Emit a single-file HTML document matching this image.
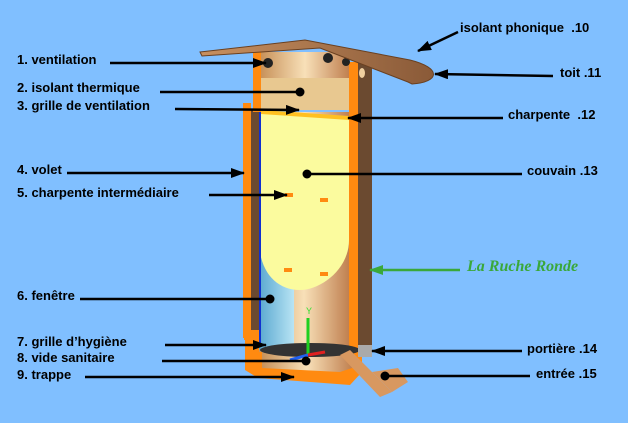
<!DOCTYPE html>
<html><head><meta charset="utf-8"><style>
html,body{margin:0;padding:0;background:#80bfff;}
svg{display:block}
text{font-family:"Liberation Sans",Arial,sans-serif;font-weight:bold;font-size:13px;fill:#000}
line{stroke-width:2.5}
</style></head><body>
<svg width="628" height="423" viewBox="0 0 628 423" xmlns="http://www.w3.org/2000/svg">
<defs>
<marker id="ah" markerWidth="14" markerHeight="10" refX="13" refY="5" orient="auto" markerUnits="userSpaceOnUse"><path d="M0,0 L14,5 L0,10 z" fill="#000"/></marker>
<marker id="ahg" markerWidth="14" markerHeight="10" refX="13" refY="5" orient="auto" markerUnits="userSpaceOnUse"><path d="M0,0 L14,5 L0,10 z" fill="#3aa83a"/></marker>
<linearGradient id="tan" x1="0" x2="1"><stop offset="0" stop-color="#c8925a"/><stop offset="0.5" stop-color="#f8e0b8"/><stop offset="1" stop-color="#c08050"/></linearGradient>
<linearGradient id="roof" x1="0" x2="1"><stop offset="0" stop-color="#c89060"/><stop offset="1" stop-color="#8a5a38"/></linearGradient>
<linearGradient id="win" x1="0" x2="1"><stop offset="0" stop-color="#5aa8d0"/><stop offset="1" stop-color="#b8e4f4"/></linearGradient>
</defs>
<rect width="628" height="423" fill="#80bfff"/>
<polygon points="245,335 362,335 362,372 350,385 258,378 245,370" fill="#ff8a10"/>
<polygon points="262,350 352,350 352,368 340,372 262,368" fill="url(#tan)"/>
<rect x="357" y="62" width="15" height="290" fill="#6b4a30"/>
<rect x="349" y="62" width="9" height="290" fill="#ff8a10"/>
<rect x="243" y="103" width="8" height="235" fill="#ff8a10"/>
<rect x="251" y="110" width="8" height="225" fill="#6b4a30"/>
<rect x="244" y="330" width="22" height="10" fill="#ff8a10"/>
<rect x="259" y="112" width="90" height="240" fill="url(#tan)"/>
<rect x="259" y="240" width="35" height="110" fill="url(#win)"/>
<path d="M259,112 L349,118 L349,240 C349,270 320,290 300,290 C275,290 259,270 259,240 Z" fill="#fbfb9e"/>
<line x1="260" y1="112" x2="260" y2="345" stroke="#1030d0" style="stroke-width:2"/>
<rect x="253" y="50" width="8" height="62" fill="#ff8a10"/>
<rect x="261" y="52" width="88" height="58" fill="url(#tan)"/>
<rect x="261" y="78" width="88" height="32" fill="#e8c890"/>
<polygon points="261,110 349,116 349,120 261,114" fill="#ffc020"/>
<circle cx="268" cy="63" r="5" fill="#222"/>
<circle cx="328" cy="58" r="5" fill="#222"/>
<circle cx="346" cy="62" r="4" fill="#222"/>
<ellipse cx="362" cy="73" rx="3" ry="5" fill="#f0d0a0"/>
<path d="M200,52 L305,40 L410,60 C442,68 440,82 412,84 L408,82 L320,48 L202,56 Z" fill="url(#roof)" stroke="#6a4020" stroke-width="1"/>
<ellipse cx="310" cy="350" rx="50" ry="7" fill="#333"/>
<rect x="285" y="193" width="8" height="4" fill="#ff8a10"/>
<rect x="320" y="198" width="8" height="4" fill="#ff8a10"/>
<rect x="284" y="268" width="8" height="4" fill="#ff8a10"/>
<rect x="320" y="272" width="8" height="4" fill="#ff8a10"/>
<line x1="308" y1="355" x2="308" y2="318" stroke="#20d020" style="stroke-width:3"/>
<text x="306" y="314" style="font-size:9px;fill:#30e030;font-weight:normal">Y</text>
<line x1="308" y1="355" x2="290" y2="360" stroke="#2060f0" style="stroke-width:3"/>
<line x1="308" y1="355" x2="325" y2="352" stroke="#e02020" style="stroke-width:3"/>
<rect x="358" y="345" width="14" height="12" fill="#aaa"/>
<polygon points="340,355 350,350 392,392 380,397" fill="#d89860"/>
<polygon points="372,372 398,368 408,382 392,392" fill="#d89860"/>
<text x="17" y="64">1. ventilation</text>
<line x1="110" y1="63" x2="266" y2="63" stroke="#000" marker-end="url(#ah)"/>
<text x="17" y="92">2. isolant thermique</text>
<line x1="160" y1="92" x2="300" y2="92" stroke="#000"/><circle cx="300" cy="92" r="4.5"/>
<text x="17" y="110">3. grille de ventilation</text>
<line x1="175" y1="109" x2="299" y2="110" stroke="#000" marker-end="url(#ah)"/>
<text x="17" y="174">4. volet</text>
<line x1="67" y1="173" x2="244" y2="173" stroke="#000" marker-end="url(#ah)"/>
<text x="17" y="197">5. charpente intermédiaire</text>
<line x1="209" y1="195" x2="287" y2="195" stroke="#000" marker-end="url(#ah)"/>
<text x="17" y="300">6. fenêtre</text>
<line x1="80" y1="299" x2="270" y2="299" stroke="#000"/><circle cx="270" cy="299" r="4.5"/>
<text x="17" y="346">7. grille d’hygiène</text>
<line x1="165" y1="345" x2="266" y2="345" stroke="#000" marker-end="url(#ah)"/>
<text x="17" y="362">8. vide sanitaire</text>
<line x1="162" y1="361" x2="306" y2="361" stroke="#000"/><circle cx="306" cy="361" r="4.5"/>
<text x="17" y="379">9. trappe</text>
<line x1="85" y1="377" x2="294" y2="377" stroke="#000" marker-end="url(#ah)"/>
<text x="460" y="32">isolant phonique&#160;&#160;.10</text>
<line x1="458" y1="32" x2="418" y2="51" stroke="#000" marker-end="url(#ah)"/>
<text x="560" y="77">toit .11</text>
<line x1="553" y1="76" x2="435" y2="74" stroke="#000" marker-end="url(#ah)"/>
<text x="508" y="119">charpente&#160;&#160;.12</text>
<line x1="503" y1="118" x2="348" y2="118" stroke="#000" marker-end="url(#ah)"/>
<text x="527" y="175">couvain .13</text>
<line x1="522" y1="174" x2="307" y2="174" stroke="#000"/><circle cx="307" cy="174" r="4.5"/>
<text x="467" y="271" style="font-family:'Liberation Serif',serif;font-style:italic;font-size:16px;fill:#3aa83a">La Ruche Ronde</text>
<line x1="460" y1="270" x2="370" y2="270" stroke="#3aa83a" marker-end="url(#ahg)"/>
<text x="527" y="353">portière .14</text>
<line x1="522" y1="351" x2="372" y2="351" stroke="#000" marker-end="url(#ah)"/>
<text x="536" y="378">entrée .15</text>
<line x1="530" y1="376" x2="385" y2="376" stroke="#000"/><circle cx="385" cy="376" r="4.5"/>
</svg>
</body></html>
